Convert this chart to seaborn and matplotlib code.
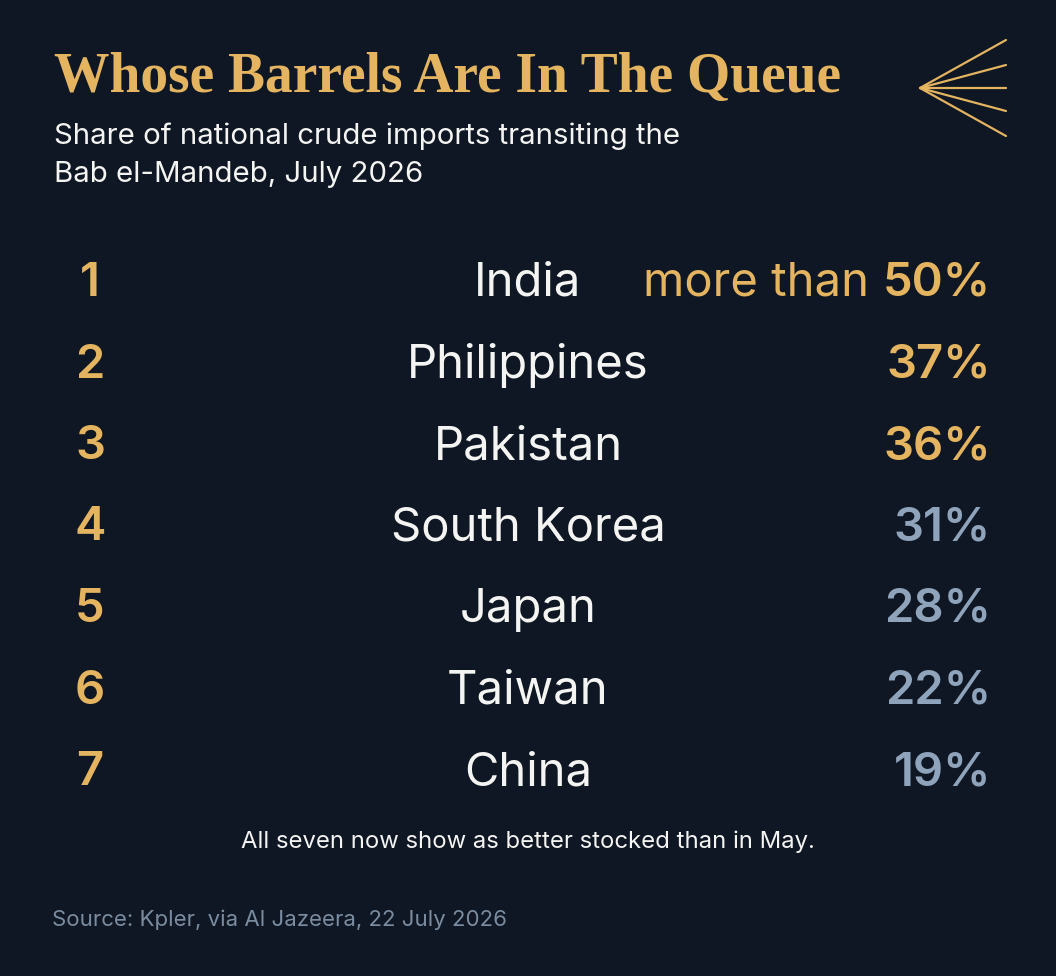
import numpy as np
import pandas as pd
import matplotlib.pyplot as plt
import seaborn as sns

# Data
ranks = [1, 2, 3, 4, 5, 6, 7]
countries = ['India', 'Philippines', 'Pakistan', 'South Korea', 'Japan', 'Taiwan', 'China']
shares = [50, 37, 36, 31, 28, 22, 19]
prefixes = ['more than', '', '', '', '', '', '']
highlight = [True, True, True, False, False, False, False]

df = pd.DataFrame({'rank': ranks, 'country': countries, 'share': shares,
                   'prefix': prefixes, 'top': highlight})

BG = '#0e1723'
GOLD = '#e4b460'
SLATE = '#8fa3bb'
WHITE = '#f4f4f2'

sns.set_theme(style='dark')
plt.rcParams['font.family'] = ['Inter', 'DejaVu Sans']

fig = plt.figure(figsize=(10.56, 9.76), dpi=100, facecolor=BG)
ax = fig.add_axes([0, 0, 1, 1])
ax.set_facecolor(BG)
ax.set_xlim(0, 1056)
ax.set_ylim(976, 0)
ax.axis('off')

# Title block
ax.text(54, 78, 'Whose Barrels Are In The Queue', color=GOLD, fontsize=40,
        family='Liberation Serif', fontweight='bold', va='center', ha='left')
ax.text(54, 136, 'Share of national crude imports transiting the', color=WHITE,
        fontsize=21.2, va='center', ha='left')
ax.text(54, 175, 'Bab el-Mandeb, July 2026', color=WHITE,
        fontsize=21.2, va='center', ha='left')

# Fan icon
for yend in [40, 65, 88, 111, 136]:
    ax.plot([920, 1006], [88, yend], color=GOLD, lw=1.6, solid_capstyle='round')

# Rows
row_y0, row_step = 284, 81.5
for _, r in df.iterrows():
    y = row_y0 + (r['rank'] - 1) * row_step
    ax.text(90, y, str(r['rank']), color=GOLD, fontsize=34, fontweight='semibold',
            ha='center', va='center')
    ax.text(528, y, r['country'], color=WHITE, fontsize=34, ha='center', va='center')
    col = GOLD if r['top'] else SLATE
    t = ax.text(991, y, f"{r['share']}%", color=col, fontsize=34, fontweight='semibold',
                ha='right', va='center')
    if r['prefix']:
        fig.canvas.draw()
        bb = t.get_window_extent().transformed(ax.transData.inverted())
        ax.text(bb.x0 - 14, y, r['prefix'], color=GOLD, fontsize=34,
                ha='right', va='center')

ax.text(528, 842, 'All seven now show as better stocked than in May.', color=WHITE,
        fontsize=17.2, ha='center', va='center')
ax.text(52, 920, 'Source: Kpler, via Al Jazeera, 22 July 2026', color='#7b8ca1',
        fontsize=16, ha='left', va='center')

fig.savefig('out.png', dpi=100, facecolor=BG)
